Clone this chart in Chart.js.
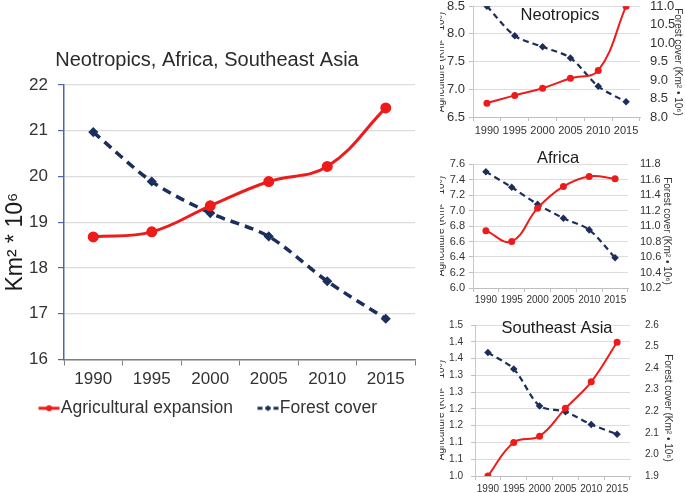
<!DOCTYPE html>
<html><head><meta charset="utf-8">
<script src="https://cdn.jsdelivr.net/npm/chart.js@4"></script>
<style>
html,body{margin:0;padding:0;background:#fff;}
#wrap{position:relative;width:685px;height:493px;overflow:hidden;background:#fff;}
canvas{position:absolute;}
</style></head><body>
<div id="wrap">
<canvas id="main" width="440" height="493" style="left:0;top:0"></canvas>
<canvas id="neo" width="245" height="140" style="left:440px;top:0"></canvas>
<canvas id="afr" width="245" height="165" style="left:440px;top:140px"></canvas>
<canvas id="sea" width="245" height="188" style="left:440px;top:305px"></canvas>
</div>
<script>
// ---- data ----
const years = ['1990', '1995', '2000', '2005', '2010', '2015'];
const seriesNames = ['Agricultural expansion', 'Forest cover'];
const mainAgri = [18.68, 18.79, 19.36, 19.89, 20.22, 21.5];
const mainForest = [20.97, 19.89, 19.2, 18.69, 17.71, 16.89];
const neoAgri = [6.75, 6.89, 7.02, 7.2, 7.34, 8.5];
const neoForest = [11.0, 10.2, 9.9, 9.6, 8.83, 8.41];
const afrAgri = [6.74, 6.6, 7.03, 7.31, 7.44, 7.41];
const afrForest = [11.7, 11.5, 11.28, 11.1, 10.95, 10.59];
const seaAgri = [1.0, 1.111, 1.132, 1.224, 1.312, 1.443];
const seaForest = [2.472, 2.396, 2.225, 2.198, 2.139, 2.094];

const mainTitle = 'Neotropics, Africa, Southeast Asia';
const mainYTitle = 'Km\u00B2 * 10\u2076';
const agriTitle = 'Agriculture (Km\u00B2 * 10\u2076)';
const forestTitle = 'Forest cover (Km\u00B2 \u2022 10\u2076)';
const regionTitles = ['Neotropics', 'Africa', 'Southeast Asia'];

const RED = '#ee1b1b';
const NAVY = '#1c2f5c';
const GRID = '#dcdcdc';
const TXT = '#333333';

const freeText = {
  id: 'freeText',
  afterDraw(chart, args, opts) {
    const ctx = chart.ctx;
    (opts.items || []).forEach(it => {
      ctx.save();
      ctx.font = it.font;
      ctx.fillStyle = it.color || TXT;
      ctx.textAlign = 'center';
      ctx.textBaseline = 'middle';
      ctx.translate(it.x, it.y);
      if (it.rotate) ctx.rotate(it.rotate * Math.PI / 180);
      ctx.fillText(it.text, 0, 0);
      ctx.restore();
    });
  }
};
Chart.register(freeText);

// moves the legend box up a little after layout
const legendShift = {
  id: 'legendShift',
  afterLayout(chart) {
    if (chart.legend) { chart.legend.top -= 16; chart.legend.bottom -= 16; }
  }
};

// legend marker image (centered on the legend box; marker sits just before the text)
function legendMark(color, dashed) {
  const c = document.createElement('canvas');
  c.width = 60; c.height = 10;
  const x = c.getContext('2d');
  const x0 = 23.5, x1 = 44.5, xm = 34;
  x.strokeStyle = color; x.lineWidth = 3;
  if (dashed) x.setLineDash([5, 3]);
  x.beginPath(); x.moveTo(x0, 5); x.lineTo(x1, 5); x.stroke();
  x.fillStyle = color;
  x.beginPath();
  if (dashed) { x.moveTo(xm, 2); x.lineTo(xm + 3, 5); x.lineTo(xm, 8); x.lineTo(xm - 3, 5); x.closePath(); }
  else { x.arc(xm, 5, 3, 0, Math.PI * 2); }
  x.fill();
  return c;
}
const marks = [legendMark(RED, false), legendMark(NAVY, true)];

const W = v => s => { s.width = v; s.paddingTop = 0; s.paddingBottom = 0; };
const H = v => s => { s.height = v; };

// ---- main chart ----
new Chart(document.getElementById('main'), {
  type: 'line',
  plugins: [legendShift],
  data: {
    labels: years,
    datasets: [
      { label: seriesNames[0], data: mainAgri, borderColor: RED, backgroundColor: RED,
        borderWidth: 3, pointRadius: 4, pointStyle: 'circle', tension: 0.4 },
      { label: seriesNames[1], data: mainForest, borderColor: NAVY, backgroundColor: NAVY,
        borderWidth: 3.5, borderDash: [9, 6], pointRadius: 2.6, pointStyle: 'rectRot', tension: 0.3 }
    ]
  },
  options: {
    responsive: false, animation: false,
    layout: { padding: { left: 0, right: 25, top: 85, bottom: 50 } },
    scales: {
      x: {
        offset: true,
        afterFit: H(32),
        grid: { display: true, drawOnChartArea: false, offset: true, tickLength: 6, tickColor: '#7f7f7f' },
        border: { color: '#7f7f7f', width: 1.5 },
        ticks: { font: { family: 'Liberation Sans', size: 17 }, color: TXT, padding: 4 }
      },
      y: {
        min: 16, max: 22,
        afterFit: W(64),
        ticks: { stepSize: 1, font: { family: 'Liberation Sans', size: 17 }, color: TXT, padding: 10 },
        grid: { color: GRID, lineWidth: 1.2, tickLength: 6, tickColor: '#4a6aa5' },
        border: { color: '#4a6aa5', width: 1.5 }
      }
    },
    plugins: {
      legend: {
        position: 'bottom',
        labels: {
          usePointStyle: true, pointStyleWidth: 14, padding: 24,
          font: { family: 'Liberation Sans', size: 17.5 }, color: TXT,
          generateLabels: chart => chart.data.datasets.map((ds, i) => ({
            text: ds.label, fillStyle: ds.borderColor, strokeStyle: ds.borderColor,
            lineWidth: 0, pointStyle: marks[i], datasetIndex: i, hidden: false, fontColor: TXT
          }))
        }
      },
      tooltip: { enabled: false },
      freeText: { items: [
        { text: mainTitle, x: 207, y: 60, font: '20px "Liberation Sans"', color: '#2a2a2a' },
        { text: mainYTitle, x: 16, y: 242, rotate: -90, font: '23px "Liberation Sans"', color: '#1a1a1a' }
      ] }
    }
  }
});

// ---- small charts ----
function small(id, agri, forest, cfg) {
  new Chart(document.getElementById(id), {
    type: 'line',
    data: {
      labels: years,
      datasets: [
        { label: seriesNames[0], data: agri, yAxisID: 'y', borderColor: RED, backgroundColor: RED,
          borderWidth: 2, pointRadius: 2.5, pointStyle: 'circle', tension: 0.4 },
        { label: seriesNames[1], data: forest, yAxisID: 'y1', borderColor: NAVY, backgroundColor: NAVY,
          borderWidth: 2.2, borderDash: [6, 4], pointRadius: 2.2, pointStyle: 'rectRot', tension: 0.3 }
      ]
    },
    options: {
      responsive: false, animation: false,
      layout: { padding: { left: 0, right: 0, top: cfg.top, bottom: 0 } },
      scales: {
        x: {
          offset: true,
          afterFit: H(cfg.xh),
          grid: { display: true, drawOnChartArea: false, offset: true, tickLength: 4, tickColor: '#bfbfbf' },
          border: { color: '#bfbfbf' },
          ticks: { font: { family: 'Liberation Sans', size: cfg.xfs }, color: TXT, padding: cfg.xpad, maxRotation: 0, autoSkip: false }
        },
        y: {
          position: 'left', min: cfg.lmin, max: cfg.lmax,
          afterFit: W(cfg.left),
          ticks: Object.assign({ font: { family: 'Liberation Sans', size: cfg.lfs }, color: TXT, padding: cfg.lpad,
            autoSkip: false, callback: v => Number(v).toFixed(1) }, cfg.lticks),
          grid: { color: GRID, tickLength: 4, tickColor: '#bfbfbf' },
          border: { color: '#c8c8c8' }
        },
        y1: {
          position: 'right', min: cfg.rmin, max: cfg.rmax,
          afterFit: W(cfg.right),
          ticks: Object.assign({ font: { family: 'Liberation Sans', size: cfg.rfs }, color: TXT, padding: cfg.rpad,
            autoSkip: false, callback: v => Number(v).toFixed(1) }, cfg.rticks),
          grid: { drawOnChartArea: false, drawTicks: false },
          border: { display: false }
        }
      },
      plugins: {
        legend: { display: false },
        tooltip: { enabled: false },
        freeText: { items: [
          { text: cfg.title, x: cfg.tx, y: cfg.ty, font: '16.5px "Liberation Sans"', color: '#1a1a1a' },
          { text: agriTitle, x: 1.5, y: cfg.ly, rotate: -90, font: '10px "Liberation Sans"', color: TXT },
          { text: forestTitle, x: cfg.rx, y: cfg.ry, rotate: 90, font: '10px "Liberation Sans"', color: TXT }
        ] }
      }
    }
  });
}

small('neo', neoAgri, neoForest, {
  title: regionTitles[0], tx: 120, ty: 15,
  top: 6, xh: 23, left: 33, right: 45, xfs: 11, xpad: 3,
  lmin: 6.5, lmax: 8.5, lticks: { stepSize: 0.5 }, lfs: 13, lpad: 4,
  rmin: 8.0, rmax: 11.0, rticks: { stepSize: 0.5 }, rfs: 13, rpad: 10,
  ly: 62, rx: 238, ry: 62
});
small('afr', afrAgri, afrForest, {
  title: regionTitles[1], tx: 118, ty: 18,
  top: 24, xh: 17, left: 33, right: 57, xfs: 10, xpad: 2,
  lmin: 6.0, lmax: 7.6, lticks: { stepSize: 0.2 }, lfs: 11, lpad: 4,
  rmin: 10.2, rmax: 11.8, rticks: { stepSize: 0.2 }, rfs: 11, rpad: 12,
  ly: 86, rx: 227, ry: 91
});
small('sea', seaAgri, seaForest, {
  title: regionTitles[2], tx: 117, ty: 23,
  top: 20, xh: 17, left: 35, right: 55, xfs: 10, xpad: 3,
  lmin: 1.0, lmax: 1.5, lticks: { count: 10 }, lfs: 10, lpad: 8,
  rmin: 1.9, rmax: 2.6, rticks: { count: 8 }, rfs: 10, rpad: 15,
  ly: 105, rx: 228, ry: 103
});
</script>
</body></html>
